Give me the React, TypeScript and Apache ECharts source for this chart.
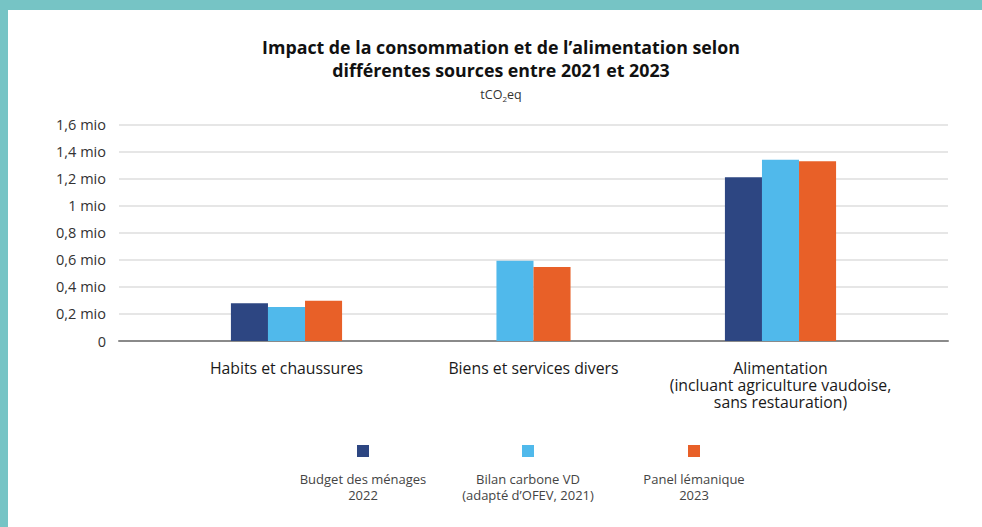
import { useEffect, useRef } from 'react';
import * as echarts from 'echarts';

const categories = [
  'Habits et chaussures',
  'Biens et services divers',
  'Alimentation\n(incluant agriculture vaudoise,\nsans restauration)',
];
const seriesNames = [
  'Budget des ménages 2022',
  'Bilan carbone VD (adapté d’OFEV, 2021)',
  'Panel lémanique 2023',
];
const legendLine1 = ['Budget des ménages', 'Bilan carbone VD', 'Panel lémanique'];
const legendLine2 = ['2022', '(adapté d’OFEV, 2021)', '2023'];
const budgetMenages: (number | null)[] = [279000, null, 1210000];
const bilanCarbone: (number | null)[] = [251000, 593000, 1340000];
const panelLemanique: (number | null)[] = [298000, 547000, 1328000];
const yMin = 0;
const yMax = 1600000;
const yInterval = 200000;

const colors = ['#2d4682', '#50b9eb', '#e86028'];
const FONT = '"Open Sans", "Noto Sans", sans-serif';

const allSeries = [budgetMenages, bilanCarbone, panelLemanique];

function makeRender(sIdx: number) {
  return (params: any, api: any) => {
    const cat = api.value(0);
    const val = api.value(1);
    if (val == null || isNaN(val)) return null;
    const present = allSeries.map((_, j) => j).filter((j) => allSeries[j][cat] != null);
    const n = present.length;
    const k = present.indexOf(sIdx);
    const catW = api.size([1, 0])[0];
    const bw = catW * 0.15;
    const base = api.coord([cat, 0]);
    const top = api.coord([cat, val]);
    const x0 = base[0] - (n * bw) / 2 + k * bw;
    return {
      type: 'rect',
      shape: { x: x0, y: top[1], width: bw, height: base[1] - top[1] },
      style: { fill: colors[sIdx] },
    };
  };
}

function fmt(v: number) {
  if (v === 0) return '0';
  return String(v / 1000000).replace('.', ',') + ' mio';
}

export default function App() {
  const ref = useRef<HTMLDivElement>(null);
  useEffect(() => {
    document.body.style.margin = '0';
    const chart = echarts.init(ref.current!, null, { renderer: 'svg' });
    const legendLefts = [357, 522, 688];
    const legendCenters = [363, 528, 694];
    const legendTextStyle = {
      fontFamily: FONT,
      fontSize: 13,
      fill: '#444',
      textAlign: 'center',
      textVerticalAlign: 'middle',
    };
    chart.setOption({
      animation: false,
      backgroundColor: '#ffffff',
      textStyle: { fontFamily: FONT },
      title: {
        text: 'Impact de la consommation et de l’alimentation selon\ndifférentes sources entre 2021 et 2023',
        subtext: '{a|tCO}{b|2}{a|eq}',
        left: 496,
        top: 30,
        textAlign: 'center',
        itemGap: 5,
        textStyle: {
          fontFamily: FONT,
          fontSize: 17.8,
          fontWeight: 'bold',
          color: '#111',
          lineHeight: 23,
        },
        subtextStyle: {
          rich: {
            a: { fontFamily: FONT, fontSize: 12.5, color: '#333' },
            b: { fontFamily: FONT, fontSize: 8, color: '#333', padding: [8, 0, 0, 0] },
          },
        },
      },
      legend: seriesNames.map((name, i) => ({
        data: [name],
        left: legendLefts[i],
        top: 445,
        padding: 0,
        itemWidth: 12,
        itemHeight: 12,
        icon: 'rect',
        selectedMode: false,
        formatter: () => '',
        textStyle: { fontSize: 1 },
      })),
      graphic: [
        { type: 'rect', shape: { x: 0, y: 0, width: 982, height: 10 }, style: { fill: '#76c4c5' }, z: 100 },
        { type: 'rect', shape: { x: 0, y: 0, width: 8, height: 527 }, style: { fill: '#76c4c5' }, z: 100 },
        ...legendLine1.map((t, i) => ({
          type: 'text',
          x: legendCenters[i],
          y: 479,
          style: { ...legendTextStyle, text: t },
        })),
        ...legendLine2.map((t, i) => ({
          type: 'text',
          x: legendCenters[i],
          y: 494.5,
          style: { ...legendTextStyle, text: t },
        })),
      ],
      grid: [
        { left: 119, right: 34, top: 124.5, bottom: 186 },
        { left: 163, right: 78, top: 124.5, bottom: 186 },
      ],
      xAxis: [
        {
          gridIndex: 0,
          type: 'value',
          min: 0,
          max: 1,
          axisLine: { show: true, lineStyle: { color: '#8a8a8a', width: 2 } },
          axisTick: { show: false },
          axisLabel: { show: false },
          splitLine: { show: false },
        },
        {
          gridIndex: 1,
          type: 'category',
          data: categories,
          axisLine: { show: false },
          axisTick: { show: false },
          axisLabel: {
            margin: 18,
            fontFamily: FONT,
            fontSize: 15.8,
            lineHeight: 17,
            color: '#1a1a1a',
            interval: 0,
          },
        },
      ],
      yAxis: [
        {
          gridIndex: 0,
          type: 'value',
          min: yMin,
          max: yMax,
          interval: yInterval,
          axisLine: { show: false },
          axisTick: { show: false },
          axisLabel: { formatter: fmt, margin: 13, fontFamily: FONT, fontSize: 14.5, color: '#333' },
          splitLine: { lineStyle: { color: '#e6e6e6', width: 2 } },
        },
        {
          gridIndex: 1,
          type: 'value',
          min: yMin,
          max: yMax,
          interval: yInterval,
          show: false,
          splitLine: { show: false },
        },
      ],
      series: allSeries.map((arr, i) => ({
        name: seriesNames[i],
        type: 'custom',
        xAxisIndex: 1,
        yAxisIndex: 1,
        itemStyle: { color: colors[i] },
        encode: { x: 0, y: 1 },
        renderItem: makeRender(i),
        data: arr.map((v, ci) => [ci, v]).filter((d) => d[1] != null),
        z: 5,
      })),
    });
    return () => chart.dispose();
  }, []);
  return <div ref={ref} style={{ width: 982, height: 527 }} />;
}
